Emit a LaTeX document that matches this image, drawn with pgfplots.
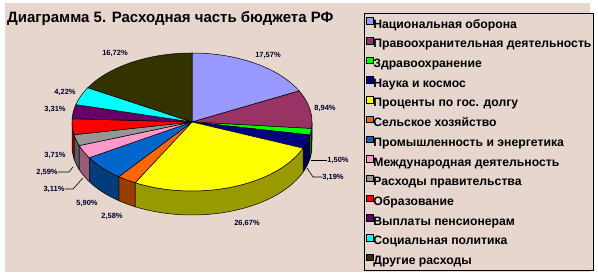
\documentclass[border=0pt]{standalone}
\usepackage{fontspec}
\setmainfont{Liberation Sans}
\usepackage{pgfplots}
\pgfplotsset{compat=1.18}

\definecolor{bgc}{RGB}{230,214,206}
\definecolor{lbl}{RGB}{0,0,40}
\definecolor{cA}{HTML}{9999FF}
\definecolor{cB}{HTML}{993366}
\definecolor{cC}{HTML}{00FF00}
\definecolor{cD}{HTML}{000080}
\definecolor{cE}{HTML}{FFFF00}
\definecolor{cF}{HTML}{FF6600}
\definecolor{cG}{HTML}{0066CC}
\definecolor{cH}{HTML}{FF99CC}
\definecolor{cI}{HTML}{969696}
\definecolor{cJ}{HTML}{FF0000}
\definecolor{cK}{HTML}{660066}
\definecolor{cL}{HTML}{00FFFF}
\definecolor{cM}{HTML}{333300}

% shares of the budget, per cent
\def\pA{17.57}\def\pB{8.94}\def\pC{1.50}\def\pD{3.19}\def\pE{26.67}
\def\pF{2.58}\def\pG{5.90}\def\pH{3.11}\def\pI{2.59}\def\pJ{3.71}
\def\pK{3.31}\def\pL{4.22}\def\pM{16.72}

\pgfmathsetmacro\tot{\pA+\pB+\pC+\pD+\pE+\pF+\pG+\pH+\pI+\pJ+\pK+\pL+\pM}
\pgfmathsetmacro\f{360/\tot}
\def\aA{90}
\pgfmathsetmacro\aB{\aA-\f*\pA}
\pgfmathsetmacro\aC{\aB-\f*\pB}
\pgfmathsetmacro\aD{\aC-\f*\pC}
\pgfmathsetmacro\aE{\aD-\f*\pD}
\pgfmathsetmacro\aF{\aE-\f*\pE}
\pgfmathsetmacro\aG{\aF-\f*\pF}
\pgfmathsetmacro\aH{\aG-\f*\pG}
\pgfmathsetmacro\aI{\aH-\f*\pH}
\pgfmathsetmacro\aJ{\aI-\f*\pI}
\pgfmathsetmacro\aK{\aJ-\f*\pJ}
\pgfmathsetmacro\aL{\aK-\f*\pK}
\pgfmathsetmacro\aM{\aL-\f*\pL}
\def\aN{-270}

\newcommand\side[3]{%
 \pgfmathsetmacro\shi{min(#1,0)}%
 \pgfmathsetmacro\slo{max(#2,-180)}%
 \edef\tmp{\noexpand\addplot[forget plot, fill=#3!60!black, draw=black, line width=0.5pt, domain=0:81, samples=82]
 ({192+120*cos((x<40.5)*((\shi)+((\slo)-(\shi))*x/40)+(x>40.5)*((\slo)+((\shi)-(\slo))*(x-41)/40))},
  {156+69*sin((x<40.5)*((\shi)+((\slo)-(\shi))*x/40)+(x>40.5)*((\slo)+((\shi)-(\slo))*(x-41)/40))-24*(x>40.5)}) -- cycle;}\tmp}

\newcommand\topslice[4]{%
 \edef\tmp{\noexpand\addplot[fill=#3, draw=black, line width=0.5pt, domain=#2:#1, samples=40]
 ({192+120*cos(x)},{156+69*sin(x)}) -- (192,156) -- cycle;}\tmp
 \addlegendentry{#4}}

\begin{document}%
\begin{tikzpicture}
\begin{axis}[
  x=1pt, y=1pt, xmin=0, xmax=598, ymin=0, ymax=278,
  at={(0,0)}, anchor=south west, hide axis, clip=false,
  legend cell align=left,
  legend image code/.code={\draw[#1,draw=black,line width=0.5pt] (0pt,0.8pt) rectangle (6.5pt,7.3pt);},
  legend style={at={(axis cs:364,265)}, anchor=north west, draw=black, line width=0.8pt,
    fill=bgc, inner xsep=2pt, inner ysep=4pt, row sep=6.9pt,
    font=\bfseries\fontsize{12.2}{14}\selectfont,
    nodes={inner sep=0pt, text height=8.5pt, text depth=2pt},
    /tikz/every even column/.append style={column sep=5pt}},
]
\fill[bgc] (5,6) rectangle (590,275);
\node[anchor=base west, font=\bfseries\fontsize{15}{17}\selectfont, inner sep=0pt] at (7,255)
  {Диаграмма 5. Расходная часть бюджета РФ};
% sides
\side{\aB}{\aC}{cB}
\side{\aC}{\aD}{cC}
\side{\aD}{\aE}{cD}
\side{\aE}{\aF}{cE}
\side{\aF}{\aG}{cF}
\side{\aG}{\aH}{cG}
\side{\aH}{\aI}{cH}
\side{\aI}{\aJ}{cI}
\side{\aJ}{\aK}{cJ}
% tops
\topslice{\aA}{\aB}{cA}{Национальная оборона}
\topslice{\aB}{\aC}{cB}{Правоохранительная деятельность}
\topslice{\aC}{\aD}{cC}{Здравоохранение}
\topslice{\aD}{\aE}{cD}{Наука и космос}
\topslice{\aE}{\aF}{cE}{Проценты по гос. долгу}
\topslice{\aF}{\aG}{cF}{Сельское хозяйство}
\topslice{\aG}{\aH}{cG}{Промышленность и энергетика}
\topslice{\aH}{\aI}{cH}{Международная деятельность}
\topslice{\aI}{\aJ}{cI}{Расходы правительства}
\topslice{\aJ}{\aK}{cJ}{Образование}
\topslice{\aK}{\aL}{cK}{Выплаты пенсионерам}
\topslice{\aL}{\aM}{cL}{Социальная политика}
\topslice{\aM}{\aN}{cM}{Другие расходы}
% data labels
\begin{scope}[every node/.style={font=\bfseries\fontsize{7.5}{9}\selectfont, text=lbl, inner sep=0pt}]
\node at (268,223) {17,57\%};
\node at (325,170) {8,94\%};
\node at (338,118) {1,50\%};
\node at (333,101) {3,19\%};
\node at (247,55) {26,67\%};
\node at (112,62) {2,58\%};
\node at (87,75) {5,90\%};
\node at (54,89) {3,11\%};
\node at (47,106) {2,59\%};
\node at (55,123) {3,71\%};
\node at (55,169) {3,31\%};
\node at (65,186) {4,22\%};
\node at (115,225) {16,72\%};
\end{scope}
\draw[black, line width=0.6pt] (311,118) -- (327,118);
\draw[black, line width=0.6pt] (307,110) -- (313,101) -- (322,101);
\draw[black, line width=0.6pt] (65,89) -- (73,89) -- (83,100);
\draw[black, line width=0.6pt] (58,106) -- (69,106) -- (73,111);
\end{axis}
\pgfresetboundingbox
\path[use as bounding box] (0,0) rectangle (598pt,278pt);
\end{tikzpicture}%
\end{document}
